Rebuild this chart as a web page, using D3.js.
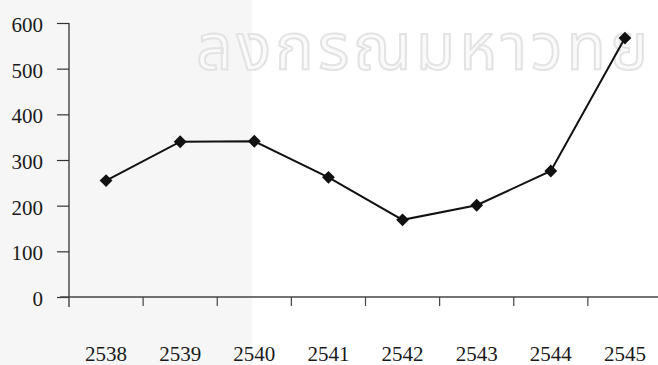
<!DOCTYPE html>
<html>
<head>
<meta charset="utf-8">
<script src="https://cdn.jsdelivr.net/npm/d3@7"></script>
<style>
  body { margin: 0; background: #fff; }
  svg { display: block; }
  .tick-label { font-family: "Liberation Serif", "Times New Roman", serif; font-size: 21px; fill: #1a1a1a; }
</style>
</head>
<body>
<div id="chart"></div>
<script>
(function(){
// chart values
const years = ["2538", "2539", "2540", "2541", "2542", "2543", "2544", "2545"];
const values = [255, 340, 341, 262, 169, 201, 276, 567];
const yTicks = [0, 100, 200, 300, 400, 500, 600];

function drawChart() {
    const width = 658;
    const height = 365;

    const svg = d3.select("#chart").append("svg")
        .attr("width", width)
        .attr("height", height);

    // greyish left part of the scanned page
    svg.append("rect")
        .attr("x", 0).attr("y", 0)
        .attr("width", 252).attr("height", height)
        .attr("fill", "#f6f6f6");

    // faint watermark at the top of the scan (kept inside the page)
    svg.append("text")
        .attr("x", 196)
        .attr("y", 69)
        .attr("fill", "#fafafa")
        .attr("stroke", "#e3e3e3")
        .attr("stroke-width", 2)
        .attr("textLength", 452)
        .attr("lengthAdjust", "spacing")
        .style("font-family", "'Noto Sans Thai', 'Loma', 'Garuda', 'DejaVu Sans', sans-serif")
        .style("font-size", "64px")
        .text("ลงกรณมหาวทย");

    // plot area edges
    const x = d3.scaleBand().domain(years).range([69, 662]);
    const y = d3.scaleLinear().domain([0, 600]).range([297, 23]);

    // y axis
    const yAxis = svg.append("g").attr("transform", "translate(69,0)")
        .call(d3.axisLeft(y).tickValues(yTicks).tickSize(12).tickPadding(14).tickFormat(d3.format("d")));
    yAxis.select(".domain").attr("d", `M0,${y(600)}V${y(0) + 10}`).attr("stroke", "#333").attr("stroke-width", 1.3);
    yAxis.selectAll(".tick line").attr("stroke", "#333").attr("stroke-width", 1.2);
    yAxis.selectAll(".tick text").attr("class", "tick-label").attr("dy", "0.4em");

    // x axis: ticks sit on the band boundaries
    const xAxis = svg.append("g").attr("transform", `translate(0,${y(0)})`);
    xAxis.append("line")
        .attr("x1", 60).attr("x2", width)
        .attr("stroke", "#444").attr("stroke-width", 1.3);
    xAxis.selectAll("line.tk")
        .data(years.slice(1))
        .join("line")
        .attr("class", "tk")
        .attr("x1", d => x(d)).attr("x2", d => x(d))
        .attr("y1", 0).attr("y2", 9)
        .attr("stroke", "#444").attr("stroke-width", 1.2);
    xAxis.selectAll("text")
        .data(years)
        .join("text")
        .attr("class", "tick-label")
        .attr("text-anchor", "middle")
        .attr("x", d => x(d) + x.bandwidth() / 2)
        .attr("y", 64)
        .text(d => d);

    // the series line
    const line = d3.line()
        .x((d, i) => x(years[i]) + x.bandwidth() / 2)
        .y(d => y(d));

    svg.append("path")
        .datum(values)
        .attr("d", line)
        .attr("fill", "none")
        .attr("stroke", "#111")
        .attr("stroke-width", 2);

    svg.append("g")
        .selectAll("path")
        .data(values)
        .join("path")
        .attr("d", d3.symbol(d3.symbolDiamond2, 105))
        .attr("transform", (d, i) => `translate(${x(years[i]) + x.bandwidth() / 2},${y(d)})`)
        .attr("fill", "#111");
}

drawChart();
})();
</script>
</body>
</html>
